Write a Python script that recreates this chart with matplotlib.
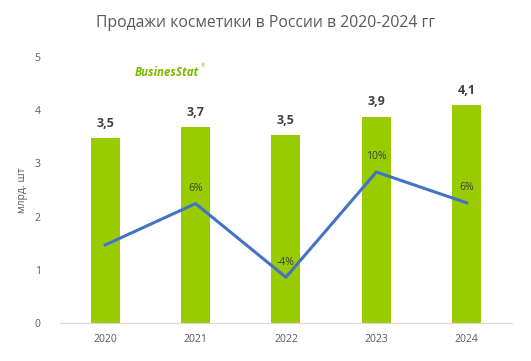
import numpy as np
import matplotlib.pyplot as plt

# Data
years = ['2020', '2021', '2022', '2023', '2024']
sales = [3.47, 3.68, 3.53, 3.88, 4.10]          # млрд. шт
sales_labels = ['3,5', '3,7', '3,5', '3,9', '4,1']
growth = [0.3, 5.8, -4.0, 10.0, 5.9]            # % к предыдущему году
growth_labels = ['', '6%', '-4%', '10%', '6%']

bar_color = '#99CC00'
line_color = '#4472C4'
text_color = '#595959'

plt.rcParams['font.family'] = ['Open Sans', 'DejaVu Sans']

fig = plt.figure(figsize=(5.31, 3.61), dpi=100)
ax = fig.add_axes([0.113, 0.105, 0.851, 0.737])

x = np.arange(len(years))
ax.bar(x, sales, width=0.32, color=bar_color, zorder=2)
for xi, v, lab in zip(x, sales, sales_labels):
    ax.annotate(lab, (xi, v), xytext=(0, 6), textcoords='offset points',
                ha='center', va='bottom', fontsize=9, fontweight='bold',
                color='#404040')

ax.set_ylim(0, 5)
ax.set_xlim(-0.5, len(years) - 0.5)
ax.set_yticks(range(6))
ax.set_xticks(x)
ax.set_xticklabels(years)
ax.tick_params(length=0, labelsize=7.5, colors=text_color, pad=8)
ax.tick_params(axis='y', pad=14)
for s in ['top', 'right', 'left']:
    ax.spines[s].set_visible(False)
ax.spines['bottom'].set_color('#D9D9D9')
ax.set_ylabel('млрд. шт', fontsize=7.5, color=text_color, labelpad=5)

# growth line on a hidden secondary axis
ax2 = ax.twinx()
ax2.plot(x, growth, color=line_color, linewidth=2.2, zorder=3)
ax2.set_ylim(-10.1, 25.3)
ax2.axis('off')
for xi, g, lab in zip(x, growth, growth_labels):
    if lab:
        ax2.annotate(lab, (xi, g), xytext=(0, 7), textcoords='offset points',
                     ha='center', va='bottom', fontsize=7.5, color='#404040')

fig.text(0.5, 0.935, 'Продажи косметики в России в 2020-2024 гг',
         ha='center', va='center', fontsize=11.3, color='#595959')

# logo
fig.text(0.253, 0.80, 'BusinesStat', ha='left', va='center', fontsize=8.3,
         fontweight='bold', fontstyle='italic', color='#7AB800')
fig.text(0.378, 0.818, '®', ha='left', va='center', fontsize=4, color='#7AB800')

fig.savefig('out.png', dpi=100)
